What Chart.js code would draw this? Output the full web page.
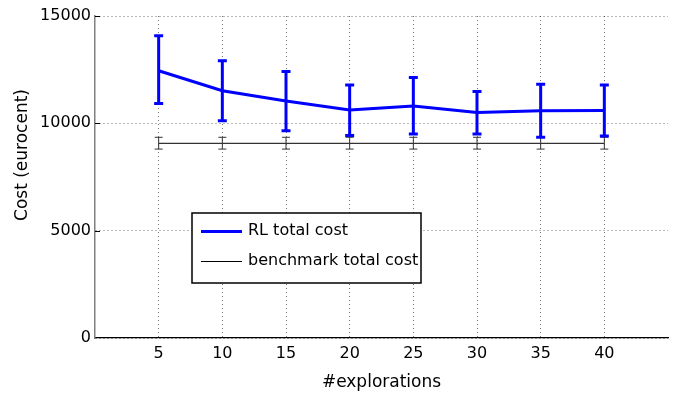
<!DOCTYPE html>
<html>
<head>
<meta charset="utf-8">
<script src="https://cdn.jsdelivr.net/npm/chart.js@4/dist/chart.umd.min.js"></script>
<style>
  html, body { margin: 0; padding: 0; background: #fff; }
  #wrap { width: 673px; height: 396px; }
</style>
</head>
<body>
<div id="wrap"><canvas id="c" width="673" height="396"></canvas></div>
<script>
// Number of explorations on the x axis
const explorations = [5, 10, 15, 20, 25, 30, 35, 40];

// RL total cost: mean and error-bar bounds (eurocent)
const rlMean = [12450, 11520, 11040, 10620, 10810, 10500, 10590, 10600];
const rlHigh = [14080, 12920, 12420, 11790, 12130, 11480, 11820, 11790];
const rlLow  = [10920, 10120, 9660, 9430, 9500, 9500, 9350, 9410];

// Benchmark total cost: mean and error-bar bounds (eurocent)
const benchMean = [9070, 9070, 9070, 9070, 9070, 9070, 9070, 9070];
const benchHigh = [9350, 9350, 9350, 9350, 9350, 9350, 9350, 9350];
const benchLow  = [8800, 8800, 8800, 8800, 8800, 8800, 8800, 8800];

// Axis ticks
const xTicks = [5, 10, 15, 20, 25, 30, 35, 40];
const yTicks = [0, 5000, 10000, 15000];

const FONT = "'DejaVu Sans', sans-serif";

const toPoints = (ys) => explorations.map((x, i) => ({ x: x, y: ys[i] }));

// Vertical error bars with caps, drawn through the chart scales
const errorBars = {
  id: 'errorBars',
  afterDatasetsDraw(chart) {
    const ctx = chart.ctx;
    const xs = chart.scales.x, ys = chart.scales.y;
    chart.data.datasets.forEach((ds) => {
      if (!ds.errLow) return;
      ctx.save();
      ctx.strokeStyle = ds.errColor;
      ctx.lineWidth = ds.errWidth;
      ctx.lineCap = 'butt';
      explorations.forEach((x, i) => {
        const px = xs.getPixelForValue(x);
        const pTop = ys.getPixelForValue(ds.errHigh[i]);
        const pBot = ys.getPixelForValue(ds.errLow[i]);
        const half = ds.capHalf;
        ctx.beginPath();
        ctx.moveTo(px, pTop); ctx.lineTo(px, pBot);
        ctx.moveTo(px - half, pTop); ctx.lineTo(px + half, pTop);
        ctx.moveTo(px - half, pBot); ctx.lineTo(px + half, pBot);
        ctx.stroke();
      });
      ctx.restore();
    });
  }
};

// Axis titles, inner tick marks and the boxed legend
const decorations = {
  id: 'decorations',
  afterDraw(chart) {
    const ctx = chart.ctx;
    const area = chart.chartArea;
    const ys = chart.scales.y;
    ctx.save();

    // inward ticks on the y axis
    ctx.strokeStyle = '#000';
    ctx.lineWidth = 1;
    yTicks.forEach((v) => {
      if (v === 0) return;
      const py = Math.round(ys.getPixelForValue(v)) + 0.5;
      ctx.beginPath();
      ctx.moveTo(area.left, py);
      ctx.lineTo(area.left + 5, py);
      ctx.stroke();
    });

    // axis titles
    ctx.fillStyle = '#000';
    ctx.font = '17px ' + FONT;
    ctx.textAlign = 'center';
    ctx.textBaseline = 'middle';
    ctx.fillText('#explorations', (area.left + area.right) / 2, 383);
    ctx.save();
    ctx.translate(23, 155);
    ctx.rotate(-Math.PI / 2);
    ctx.fillText('Cost (eurocent)', 0, 0);
    ctx.restore();

    // legend box
    const bx = 192, by = 213, bw = 229, bh = 70;
    ctx.fillStyle = '#fff';
    ctx.fillRect(bx, by, bw, bh);
    ctx.save();
    ctx.beginPath();
    ctx.rect(bx, by, bw, bh);
    ctx.clip();
    const items = [
      { label: 'RL total cost', color: '#0000ff', width: 3, y: 231 },
      { label: 'benchmark total cost', color: '#000', width: 1, y: 261 }
    ];
    ctx.font = '16px ' + FONT;
    ctx.textAlign = 'left';
    ctx.textBaseline = 'middle';
    items.forEach((it) => {
      ctx.strokeStyle = it.color;
      ctx.lineWidth = it.width;
      ctx.beginPath();
      ctx.moveTo(201, it.y + 0.5);
      ctx.lineTo(242, it.y + 0.5);
      ctx.stroke();
      ctx.fillStyle = '#000';
      ctx.fillText(it.label, 248, it.y);
    });
    ctx.restore();
    ctx.strokeStyle = '#000';
    ctx.lineWidth = 1.5;
    ctx.strokeRect(bx, by, bw, bh);

    ctx.restore();
  }
};

new Chart(document.getElementById('c'), {
  type: 'line',
  data: {
    datasets: [
      {
        label: 'benchmark total cost',
        data: toPoints(benchMean),
        borderColor: '#000',
        borderWidth: 1,
        pointRadius: 0,
        tension: 0,
        errLow: benchLow, errHigh: benchHigh,
        errColor: '#333', errWidth: 1, capHalf: 4
      },
      {
        label: 'RL total cost',
        data: toPoints(rlMean),
        borderColor: '#0000ff',
        borderWidth: 3,
        pointRadius: 0,
        tension: 0,
        errLow: rlLow, errHigh: rlHigh,
        errColor: '#0000ff', errWidth: 3, capHalf: 4.5
      }
    ]
  },
  options: {
    responsive: false,
    animation: false,
    devicePixelRatio: 1,
    layout: { padding: { top: 16, right: 5, left: 0, bottom: 0 } },
    plugins: {
      legend: { display: false },
      tooltip: { enabled: false }
    },
    scales: {
      x: {
        type: 'linear',
        min: 0,
        max: 45,
        afterBuildTicks: (s) => { s.ticks = xTicks.map((v) => ({ value: v })); },
        afterFit: (s) => { s.height = 58; },
        ticks: {
          color: '#000',
          font: { family: FONT, size: 16 },
          padding: 6,
          maxRotation: 0,
          autoSkip: false,
          callback: (v) => String(v)
        },
        grid: { color: 'rgba(0,0,0,0.55)', lineWidth: 1, drawTicks: false },
        border: { display: true, color: '#000', width: 1.2, dash: [1, 3] }
      },
      y: {
        min: 0,
        max: 15000,
        afterBuildTicks: (s) => { s.ticks = yTicks.map((v) => ({ value: v })); },
        afterFit: (s) => { s.width = 95; },
        ticks: {
          color: '#000',
          font: { family: FONT, size: 16 },
          padding: 4,
          callback: (v) => String(v)
        },
        grid: { color: 'rgba(0,0,0,0.55)', lineWidth: 1, drawTicks: false },
        border: { display: true, color: '#808080', width: 1.5, dash: [1, 3] }
      }
    }
  },
  plugins: [errorBars, decorations]
});
</script>
</body>
</html>
